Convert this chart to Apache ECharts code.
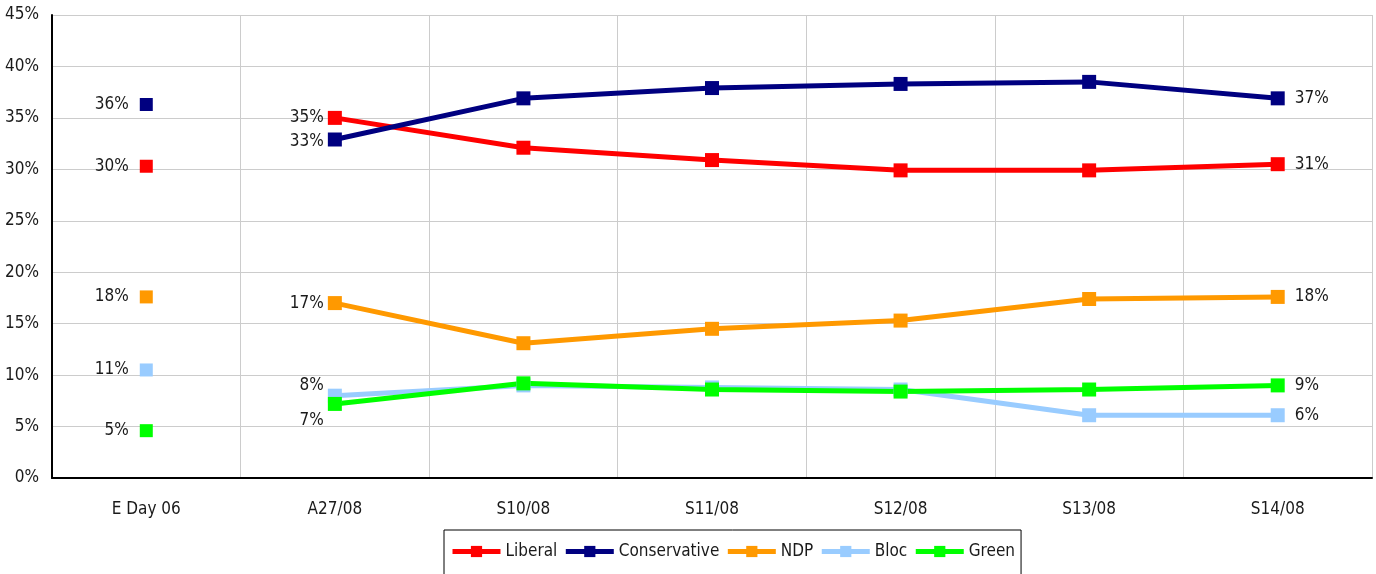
<!DOCTYPE html>
<html>
<head>
<meta charset="utf-8">
<script src="https://cdn.jsdelivr.net/npm/echarts@6/dist/echarts.min.js"></script>
<style>
  html, body { margin: 0; padding: 0; background: #fff; }
  #chart { width: 1376px; height: 574px; }
</style>
</head>
<body>
<div id="chart"></div>
<script>
var categories = ['E Day 06', 'A27/08', 'S10/08', 'S11/08', 'S12/08', 'S13/08', 'S14/08'];
var parties = ['Liberal', 'Conservative', 'NDP', 'Bloc', 'Green'];
var colors = ['#ff0000', '#000080', '#ff9900', '#99ccff', '#00ff00'];

// first value = election day 2006 (not joined to the tracking line)
var liberal      = [30.3, 35.0, 32.1, 30.9, 29.9, 29.9, 30.5];
var conservative = [36.3, 32.9, 36.9, 37.9, 38.3, 38.5, 36.9];
var ndp          = [17.6, 17.0, 13.1, 14.5, 15.3, 17.4, 17.6];
var bloc         = [10.5, 8.0, 9.0, 8.8, 8.6, 6.1, 6.1];
var green        = [4.6, 7.2, 9.2, 8.6, 8.4, 8.6, 9.0];

var values = [liberal, conservative, ndp, bloc, green];

// where the A27/08 label sits, per party
var firstLabelOffset = [[0, 0], [0, 2], [0, 0], [0, -10], [0, 17]];

var font = '"DejaVu Sans Condensed", "Liberation Sans Narrow", "Liberation Sans", sans-serif';
var fs = 17;
var txt = '#1a1a1a';

function pct(v) { return Math.round(v) + '%'; }

var series = [];
// tracking lines
values.forEach(function (vals, k) {
	var data = vals.map(function (v, i) {
		if (i === 0) return '-';
		var item = { value: v };
		if (i === 1) {
			item.label = { show: true, position: 'left', offset: firstLabelOffset[k], distance: 4 };
		} else if (i === vals.length - 1) {
			item.label = { show: true, position: 'right', distance: 10 };
		}
		return item;
	});
	series.push({
		name: parties[k],
		type: 'line',
		data: data,
		symbol: 'rect',
		symbolSize: 14,
		lineStyle: { width: 5, color: colors[k] },
		itemStyle: { color: colors[k] },
		label: { show: false, formatter: function (p) { return pct(p.value); }, color: txt, fontFamily: font, fontSize: fs },
		emphasis: { disabled: true },
		animation: false
	});
});
// election-day points
values.forEach(function (vals, k) {
	var data = vals.map(function (v, i) { return i === 0 ? v : '-'; });
	series.push({
		name: parties[k],
		type: 'scatter',
		data: data,
		symbol: 'rect',
		symbolSize: 13,
		itemStyle: { color: colors[k], opacity: 1 },
		label: { show: true, position: 'left', distance: 11, formatter: function (p) { return pct(p.value); }, color: txt, fontFamily: font, fontSize: fs },
		emphasis: { disabled: true },
		animation: false
	});
});

var option = {
	backgroundColor: '#fff',
	animation: false,
	grid: { left: 52, right: 4, top: 15, bottom: 96, containLabel: false },
	legend: {
		data: parties,
		left: 444,
		top: 530,
		width: 620,
		padding: [13, 6, 20, 6],
		borderColor: '#000',
		borderWidth: 1,
		itemGap: 6,
		itemWidth: 48,
		itemHeight: 14,
		lineStyle: { width: 5 },
		textStyle: { color: txt, fontFamily: font, fontSize: fs }
	},
	xAxis: {
		type: 'category',
		data: categories,
		boundaryGap: true,
		axisLine: { lineStyle: { color: '#000', width: 2 } },
		axisTick: { show: false },
		axisLabel: { color: txt, fontFamily: font, fontSize: fs, margin: 23 },
		splitLine: { show: true, interval: 0, lineStyle: { color: '#cccccc', width: 1 } }
	},
	yAxis: {
		type: 'value',
		min: 0,
		max: 45,
		interval: 5,
		axisLine: { show: true, lineStyle: { color: '#000', width: 2 } },
		axisTick: { show: false },
		axisLabel: { color: txt, fontFamily: font, fontSize: fs, margin: 13, formatter: '{value}%' },
		splitLine: { lineStyle: { color: '#cccccc', width: 1 } }
	},
	series: series
};

echarts.init(document.getElementById('chart')).setOption(option);
</script>
</body>
</html>
